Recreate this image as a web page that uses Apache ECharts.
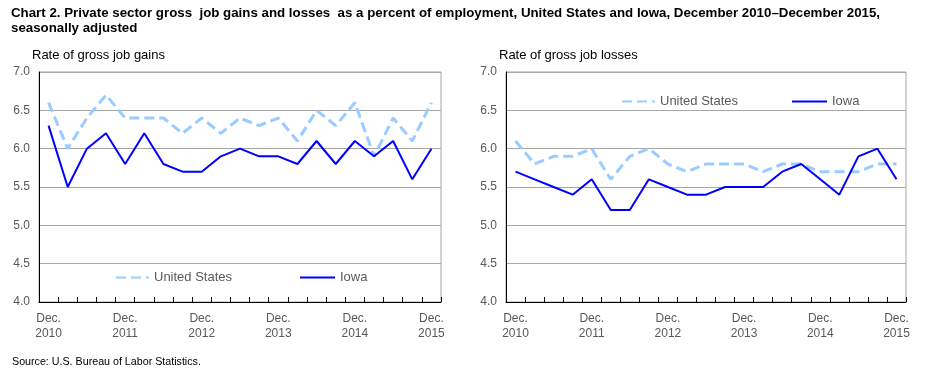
<!DOCTYPE html>
<html><head><meta charset="utf-8">
<script src="https://cdn.jsdelivr.net/npm/echarts@6/dist/echarts.min.js"></script>
<style>html,body{margin:0;padding:0;background:#fff}#c{width:930px;height:372px}</style>
</head><body><div id="c"></div>
<script>
const categories = ["Dec. 2010","Mar. 2011","Jun. 2011","Sep. 2011","Dec. 2011","Mar. 2012","Jun. 2012","Sep. 2012","Dec. 2012","Mar. 2013","Jun. 2013","Sep. 2013","Dec. 2013","Mar. 2014","Jun. 2014","Sep. 2014","Dec. 2014","Mar. 2015","Jun. 2015","Sep. 2015","Dec. 2015"];
const gainsUS   = [6.6,6.0,6.4,6.7,6.4,6.4,6.4,6.2,6.4,6.2,6.4,6.3,6.4,6.1,6.5,6.3,6.6,5.9,6.4,6.1,6.6];
const gainsIowa = [6.3,5.5,6.0,6.2,5.8,6.2,5.8,5.7,5.7,5.9,6.0,5.9,5.9,5.8,6.1,5.8,6.1,5.9,6.1,5.6,6.0];
const lossesUS   = [6.1,5.8,5.9,5.9,6.0,5.6,5.9,6.0,5.8,5.7,5.8,5.8,5.8,5.7,5.8,5.8,5.7,5.7,5.7,5.8,5.8];
const lossesIowa = [5.7,5.6,5.5,5.4,5.6,5.2,5.2,5.6,5.5,5.4,5.4,5.5,5.5,5.5,5.7,5.8,5.6,5.4,5.9,6.0,5.6];
const yTicks = [4.0,4.5,5.0,5.5,6.0,6.5,7.0];

const FONT = 'Arial, "Liberation Sans", sans-serif';
const LABEL_COLOR = '#595959';
const US_COLOR = '#99ccff';
const IA_COLOR = '#0000ff';

function xAxis(gi){
  return {
    type:'category', gridIndex:gi, data:categories, boundaryGap:true,
    axisLine:{lineStyle:{color:'#000',width:1}},
    axisTick:{show:true, inside:true, length:5, interval:0, lineStyle:{color:'#000'}},
    axisLabel:{interval:3, color:LABEL_COLOR, fontFamily:FONT, fontSize:12, lineHeight:15, margin:9,
      formatter:v=>v.replace(' ','\n')},
    splitLine:{show:false}
  };
}
function yAxis(gi){
  return {
    type:'value', gridIndex:gi, min:yTicks[0], max:yTicks[yTicks.length-1], interval:0.5,
    axisLine:{show:true, lineStyle:{color:'#000',width:1}},
    axisTick:{show:false},
    axisLabel:{color:LABEL_COLOR, fontFamily:FONT, fontSize:12, margin:9, formatter:v=>v.toFixed(1)},
    splitLine:{lineStyle:{color:'#a6a6a6',width:1}}
  };
}
function usSeries(gi,data){
  return {name:'United States', type:'line', xAxisIndex:gi, yAxisIndex:gi, data, symbol:'none',
    lineStyle:{color:US_COLOR, width:3, type:[10,5]}, itemStyle:{color:US_COLOR}, z:2};
}
function iaSeries(gi,data){
  return {name:'Iowa', type:'line', xAxisIndex:gi, yAxisIndex:gi, data, symbol:'none',
    lineStyle:{color:IA_COLOR, width:2}, itemStyle:{color:IA_COLOR}, z:3};
}
const legendText = {color:LABEL_COLOR, fontFamily:FONT, fontSize:13};
function legend(name, left, top, w){
  return {left, top, itemWidth:w, itemHeight:10, itemGap:5, textStyle:legendText,
    itemStyle:{opacity:0}, data:[name], selectedMode:false};
}
const option = {
  animation:false,
  backgroundColor:'#fff',
  title:[
    {text:'Chart 2. Private sector gross  job gains and losses  as a percent of employment, United States and Iowa, December 2010\u2013December 2015,\nseasonally adjusted',
     left:6, top:1, textStyle:{fontFamily:FONT, fontSize:13.3, fontWeight:'bold', color:'#000', lineHeight:15}},
    {text:'Rate of gross job gains', left:27, top:44, textStyle:{fontFamily:FONT, fontSize:13, fontWeight:'normal', color:'#000'}},
    {text:'Rate of gross job losses', left:494, top:44, textStyle:{fontFamily:FONT, fontSize:13, fontWeight:'normal', color:'#000'}},
    {text:'Source: U.S. Bureau of Labor Statistics.', left:7, top:352, textStyle:{fontFamily:FONT, fontSize:10.7, fontWeight:'normal', color:'#000'}}
  ],
  grid:[
    {left:39, right:489, top:72, bottom:70, show:true, borderColor:'#a6a6a6', borderWidth:1},
    {left:506, right:24, top:72, bottom:70, show:true, borderColor:'#a6a6a6', borderWidth:1}
  ],
  legend:[
    legend('United States', 110, 266, 33),
    legend('Iowa', 294, 266, 35),
    legend('United States', 616, 90, 33),
    legend('Iowa', 786, 90, 35)
  ],
  xAxis:[xAxis(0), xAxis(1)],
  yAxis:[yAxis(0), yAxis(1)],
  series:[usSeries(0,gainsUS), iaSeries(0,gainsIowa), usSeries(1,lossesUS), iaSeries(1,lossesIowa)]
};
const chart = echarts.init(document.getElementById('c'), null, {renderer:'canvas'});
chart.setOption(option);
</script></body></html>
